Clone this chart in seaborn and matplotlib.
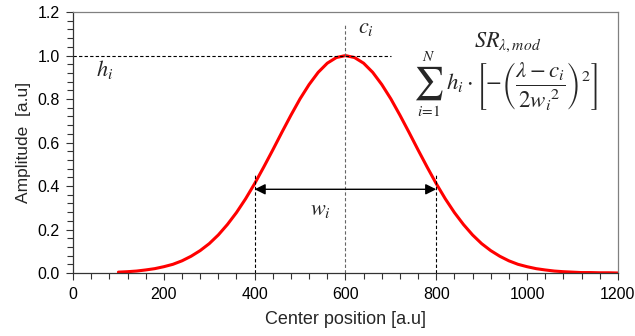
import matplotlib
matplotlib.use("Agg")
import matplotlib.pyplot as plt
import seaborn as sns
import pandas as pd

# values
center_pos = list(range(100, 1201, 20))
amplitude = [0.004, 0.006, 0.009, 0.014, 0.020, 0.029, 0.040, 0.056, 0.077, 0.103, 0.135,
             0.175, 0.223, 0.278, 0.341, 0.411, 0.487, 0.566, 0.647, 0.726, 0.801, 0.867,
             0.923, 0.965, 0.991, 1.000, 0.991, 0.965, 0.923, 0.867, 0.801, 0.726, 0.647,
             0.566, 0.487, 0.411, 0.341, 0.278, 0.223, 0.175, 0.135, 0.103, 0.077, 0.056,
             0.040, 0.029, 0.020, 0.014, 0.009, 0.006, 0.004, 0.002, 0.002, 0.001, 0.001, 0.000]
x_ticks = [0, 200, 400, 600, 800, 1000, 1200]
y_ticks = [0.0, 0.2, 0.4, 0.6, 0.8, 1.0, 1.2]
peak_h = 1.0
peak_c = 600
w_left, w_right = 400, 800

sns.set_style("ticks")
plt.rcParams["font.family"] = ["Liberation Sans", "DejaVu Sans"]
plt.rcParams["mathtext.fontset"] = "stix"

fig = plt.figure(figsize=(6.35, 3.36), dpi=100)
ax = fig.add_axes([0.115, 0.1875, 0.858, 0.7765])

df = pd.DataFrame({"x": center_pos, "y": amplitude})
sns.lineplot(data=df, x="x", y="y", ax=ax, color="#ff0000", linewidth=2.2)
for ln in ax.lines:
    ln.set_solid_joinstyle("round")

ax.set_xlim(0, 1200)
ax.set_ylim(0, 1.2)
ax.set_xticks(x_ticks)
ax.set_xticklabels([str(v) for v in x_ticks])
ax.set_yticks(y_ticks)
ax.set_yticklabels([f"{v:.1f}" for v in y_ticks])
ax.set_xticks([v for v in range(0, 1201, 40)], minor=True)
ax.set_yticks([i * 0.04 for i in range(31)], minor=True)
ax.tick_params(which="major", direction="out", length=5, width=0.8, colors="#333333",
               labelsize=11.5, labelcolor="black")
ax.tick_params(axis="x", which="major", pad=5)
ax.tick_params(axis="y", which="major", pad=4.5)
ax.tick_params(which="minor", direction="out", length=4, width=0.8, colors="#333333")

ax.set_xlabel("Center position [a.u]", fontsize=13)
ax.set_ylabel("Amplitude  [a.u]", fontsize=12.5)
ax.xaxis.set_label_coords(0.5, (336 - 320 - 336 * 0.1875) / (336 * 0.7765))
ax.xaxis.label.set_va("center")
ax.yaxis.set_label_coords((23 - 73) / 545, 0.5)
ax.yaxis.label.set_va("center")

for s in ["left", "bottom"]:
    ax.spines[s].set_color("#333333")
    ax.spines[s].set_linewidth(0.9)
for s in ["top", "right"]:
    ax.spines[s].set_color("#808080")
    ax.spines[s].set_linewidth(0.9)
    ax.spines[s].set_visible(True)

# guide lines
ax.plot([0, 700], [peak_h, peak_h], color="black", lw=0.8, ls=(0, (3, 2)))
ax.plot([peak_c, peak_c], [0, 1.14], color="#666666", lw=0.8, ls=(0, (3, 2)))
ax.plot([w_left, w_left], [0, 0.45], color="black", lw=0.8, ls=(0, (3, 2)))
ax.plot([w_right, w_right], [0, 0.45], color="black", lw=0.8, ls=(0, (3, 2)))

ax.annotate("", xy=(w_left, 0.385), xytext=(w_right, 0.385),
            arrowprops=dict(arrowstyle="<|-|>", color="black", lw=1.0,
                            mutation_scale=16, shrinkA=0, shrinkB=0))

ax.text(70, 0.935, r"$h_i$", fontsize=16, ha="center", va="center")
ax.text(645, 1.13, r"$c_i$", fontsize=16, ha="center", va="center")
ax.text(545, 0.29, r"$w_i$", fontsize=16, ha="center", va="center")
ax.text(957, 1.062, r"$SR_{\lambda,mod}$", fontsize=16, ha="center", va="center")

# formula built from pieces so the summation sign gets display size
ax.text(783, 0.875, r"$\sum$", fontsize=24, ha="center", va="center")
ax.text(783, 0.995, r"$N$", fontsize=11, ha="center", va="center")
ax.text(783, 0.745, r"$i\!=\!1$", fontsize=11, ha="center", va="center")
ax.text(822, 0.862,
        r"$h_i \cdot \left[-\left(\dfrac{\lambda - c_i}{2{w_i}^2}\right)^2\right]$",
        fontsize=16.5, ha="left", va="center")

fig.savefig("out.png", dpi=100)
